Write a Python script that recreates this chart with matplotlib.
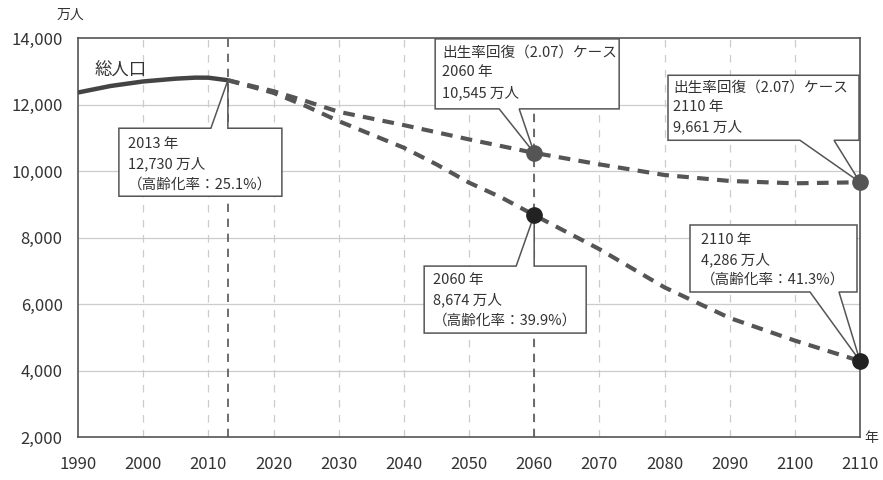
import matplotlib
matplotlib.use("Agg")
import matplotlib.pyplot as plt
from matplotlib.patches import Polygon
from matplotlib.transforms import IdentityTransform

plt.rcParams['font.family'] = ['Noto Sans CJK JP', 'DejaVu Sans']

# 総人口（実績）
hist_years = [1990, 1995, 2000, 2005, 2008, 2010, 2013]
hist_pop = [12361, 12557, 12693, 12777, 12808, 12806, 12730]

# 将来推計（出生率が現状のまま）
base_years = [2013, 2020, 2025, 2030, 2035, 2040, 2045, 2050, 2055, 2060,
              2070, 2080, 2090, 2100, 2110]
base_pop = [12730, 12350, 11950, 11500, 11100, 10700, 10200, 9650, 9200, 8674,
            7650, 6500, 5580, 4900, 4286]

# 将来推計（出生率回復 2.07 ケース）
recov_years = [2013, 2020, 2025, 2030, 2040, 2050, 2060, 2070, 2080, 2090, 2100, 2110]
recov_pop = [12730, 12400, 12100, 11780, 11380, 10950, 10545, 10200, 9880, 9700,
             9630, 9661]

x_ticks = list(range(1990, 2111, 10))
y_ticks = [2000, 4000, 6000, 8000, 10000, 12000, 14000]
y_tick_labels = ["2,000", "4,000", "6,000", "8,000", "10,000", "12,000", "14,000"]

TEXT = "#333333"
LINE = "#555555"
DARK = "#222222"
GRID = "#cccccc"

W, H = 883, 480
fig = plt.figure(figsize=(W / 100, H / 100), dpi=100)
ax = fig.add_axes([78 / W, 1 - 437 / H, 782 / W, 399 / H])
ax.set_xlim(1990, 2110)
ax.set_ylim(2000, 14000)

ax.set_xticks(x_ticks)
ax.set_xticklabels([str(v) for v in x_ticks])
ax.set_yticks(y_ticks)
ax.set_yticklabels(y_tick_labels)
ax.tick_params(axis="both", length=0, labelsize=12, colors=TEXT)
ax.tick_params(axis="x", pad=14)
ax.tick_params(axis="y", pad=11)

for s in ax.spines.values():
    s.set_color(LINE)
    s.set_linewidth(1.2)

# grid: solid horizontal, dashed vertical
for yv in y_ticks[1:-1]:
    ax.axhline(yv, color=GRID, lw=0.9, zorder=1)
for xv in x_ticks[1:-1]:
    ax.axvline(xv, color=GRID, lw=0.9, ls=(0, (6, 6)), zorder=1)

# reference years
for xv in (2013, 2060):
    ax.axvline(xv, color=LINE, lw=1.2, ls=(0, (5, 4)), zorder=2)

ax.plot(hist_years, hist_pop, color="#444444", lw=3.2, solid_capstyle="butt", zorder=4)
ax.plot(recov_years, recov_pop, color=LINE, lw=3.0, ls=(0, (2.8, 2.0)),
        dash_capstyle="butt", zorder=4)
ax.plot(base_years, base_pop, color=LINE, lw=3.0, ls=(0, (2.8, 2.0)),
        dash_capstyle="butt", zorder=4)

ax.text(1992.6, 13020, "総人口", fontsize=12.5, color=TEXT, ha="left", va="center")

fig.text(70 / W, 1 - 15 / H, "万人", fontsize=10, color=TEXT, ha="center", va="center")
fig.text(871 / W, 1 - 438 / H, "年", fontsize=10, color=TEXT, ha="center", va="center")

fig.canvas.draw()


def callout(x, y, text, box, ptr, text_off):
    """box = (left, top, right, bottom) pixel offsets from the point (y downward),
    ptr = (x1, x2) pixel offsets of the pointer base on the box edge."""
    px, py = ax.transData.transform((x, y))
    L, T, R, B = box
    p1, p2 = ptr
    if T > 0:  # box below the point, pointer on the top edge
        verts = [(L, T), (p1, T), (0, 0), (p2, T), (R, T), (R, B), (L, B)]
    else:  # box above the point, pointer on the bottom edge
        verts = [(L, T), (R, T), (R, B), (p2, B), (0, 0), (p1, B), (L, B)]
    verts = [(px + dx, py - dy) for dx, dy in verts]
    poly = Polygon(verts, closed=True, facecolor="white", edgecolor=LINE, lw=1.1,
                   transform=IdentityTransform(), zorder=6)
    ax.add_patch(poly)
    tx, ty = text_off
    ax.text(px + L + tx, py - T - ty, text, transform=IdentityTransform(),
            fontsize=10.5, color=TEXT, ha="left", va="top", linespacing=1.5, zorder=7)


callout(2013, 12730, "2013 年\n12,730 万人\n（高齢化率：25.1%）",
        (-109, 48, 54, 116), (-17, 0), (9, 9))
callout(2060, 10545, "出生率回復（2.07）ケース\n2060 年\n10,545 万人",
        (-99, -114, 85, -44), (-35, -15), (7, 7))
callout(2110, 9661, "出生率回復（2.07）ケース\n2110 年\n9,661 万人",
        (-192, -107, -1, -42), (-60, -26), (5, 5))
callout(2060, 8674, "2060 年\n8,674 万人\n（高齢化率：39.9%）",
        (-110, 51, 52, 118), (-18, 0), (9, 7))
callout(2110, 4286, "2110 年\n4,286 万人\n（高齢化率：41.3%）",
        (-170, -136, -3, -69), (-50, -21), (11, 8))

# highlighted points
ax.plot([2060, 2110], [recov_pop[recov_years.index(2060)], recov_pop[-1]],
        ls="none", marker="o", ms=11, color=LINE, zorder=8, clip_on=False)
ax.plot([2060, 2110], [base_pop[base_years.index(2060)], base_pop[-1]],
        ls="none", marker="o", ms=11, color=DARK, zorder=8, clip_on=False)

fig.savefig("out.png", dpi=100)
